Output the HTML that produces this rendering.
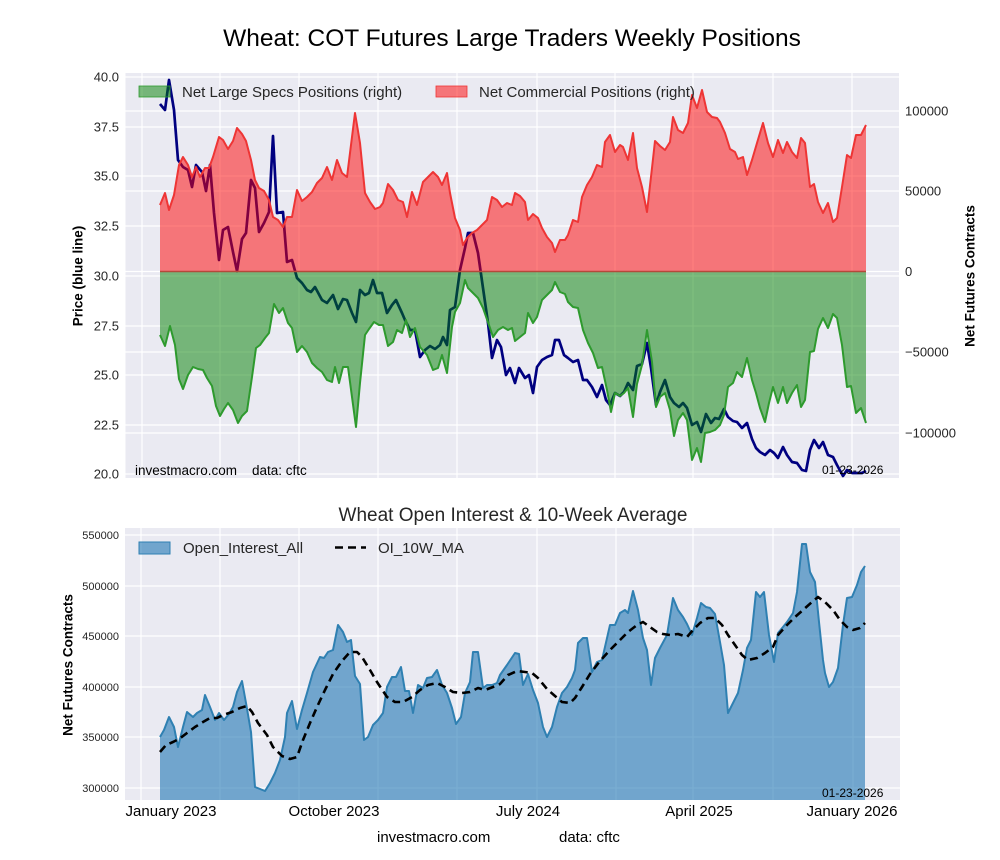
<!DOCTYPE html>
<html>
<head>
<meta charset="utf-8">
<style>
html,body{margin:0;padding:0;background:#fff;}
svg{display:block;font-family:"Liberation Sans",Arial,sans-serif;}
</style>
</head>
<body>
<svg width="1000" height="860" viewBox="0 0 1000 860" xmlns="http://www.w3.org/2000/svg">
<rect x="0" y="0" width="1000" height="860" fill="#ffffff"/>

<!-- Main title -->
<text x="512" y="46" text-anchor="middle" font-size="24.5" fill="#000">Wheat: COT Futures Large Traders Weekly Positions</text>

<!-- ================= TOP CHART ================= -->
<rect x="125.5" y="73" width="773.5" height="405" fill="#eaeaf2"/>
<g stroke="#ffffff" stroke-width="1.2">
  <line x1="142" y1="73" x2="142" y2="478"/>
  <line x1="220" y1="73" x2="220" y2="478"/>
  <line x1="299" y1="73" x2="299" y2="478"/>
  <line x1="378" y1="73" x2="378" y2="478"/>
  <line x1="457" y1="73" x2="457" y2="478"/>
  <line x1="537" y1="73" x2="537" y2="478"/>
  <line x1="615" y1="73" x2="615" y2="478"/>
  <line x1="693" y1="73" x2="693" y2="478"/>
  <line x1="773" y1="73" x2="773" y2="478"/>
  <line x1="852" y1="73" x2="852" y2="478"/>
  <line x1="125.5" y1="77" x2="899" y2="77"/>
  <line x1="125.5" y1="127" x2="899" y2="127"/>
  <line x1="125.5" y1="176" x2="899" y2="176"/>
  <line x1="125.5" y1="226" x2="899" y2="226"/>
  <line x1="125.5" y1="276" x2="899" y2="276"/>
  <line x1="125.5" y1="326" x2="899" y2="326"/>
  <line x1="125.5" y1="375" x2="899" y2="375"/>
  <line x1="125.5" y1="425" x2="899" y2="425"/>
  <line x1="125.5" y1="474" x2="899" y2="474"/>
  <line x1="125.5" y1="111" x2="899" y2="111"/>
  <line x1="125.5" y1="191" x2="899" y2="191"/>
  <line x1="125.5" y1="271.5" x2="899" y2="271.5"/>
  <line x1="125.5" y1="352" x2="899" y2="352"/>
  <line x1="125.5" y1="433" x2="899" y2="433"/>
</g>

<!-- price line (under fills) -->
<polyline fill="none" stroke="#000080" stroke-width="2.7" stroke-linejoin="round" points="160,104 165,110 169,80 174,110 178,160 183,167 188,170 192,187 196,165 202,172 206,191 210,165 214,213 219,260 223,230 228,227 233,252 237,271 242,239 246,233 251,180 255,188 259,232 264,223 269,212 273,136 277,213 283,212 287,262 292,260 297,278 302,283 307,290 311,292 315,287 322,300 327,303 333,295 338,309 343,299 347,300 352,313 356,322 360,290 365,295 369,293 373,280 377,293 382,293 387,313 392,305 396,300 402,313 405,320 410,330 415,330 420,357 425,350 430,346 435,349 440,345 443,337 447,345 450,310 455,307 460,270 465,248 468,233 473,233 478,253 483,288 488,323 492,358 497,340 501,347 506,375 510,368 515,383 519,368 525,378 529,375 533,393 537,367 542,360 547,357 552,355 555,340 559,340 564,355 568,358 573,362 578,360 583,380 587,380 592,387 597,397 602,385 606,400 610,405 615,393 620,396 624,392 628,383 633,390 637,366 642,364 647,343 651,368 656,405 660,392 665,380 670,397 674,403 679,407 683,403 687,408 692,425 697,422 701,432 706,414 711,423 715,418 719,419 724,409 728,417 733,421 737,422 742,428 747,423 752,439 756,448 760,452 765,455 770,450 774,453 778,458 783,447 787,455 792,462 797,463 802,470 806,471 810,450 814,440 819,448 823,442 828,455 833,457 837,465 843,476 847,470 852,473 857,473 862,473 866,471"/>

<!-- green fill (specs) -->
<polygon fill="#008000" fill-opacity="0.5" points="160,271.5 160,335 165,346 170,326 175,345 179,379 183,389 188,375 193,367 198,369 203,370 207,378 212,386 216,406 220,416 224,409 228,403 233,410 238,423 242,416 247,411 252,377 256,348 260,345 265,338 269,333 274,304 279,313 283,308 288,323 292,328 297,352 302,346 307,352 312,363 317,368 322,372 327,380 332,382 335,367 339,383 343,367 348,367 356,427 360,383 365,335 369,329 374,322 379,325 383,325 388,346 393,342 397,330 402,333 406,320 410,337 415,328 420,347 427,355 433,370 438,368 442,355 447,373 452,327 455,312 460,303 465,280 468,288 473,293 478,298 483,308 490,328 493,337 498,330 503,327 508,330 512,328 515,341 520,337 525,333 528,313 533,323 537,317 542,300 547,295 552,290 555,282 560,292 565,294 568,302 573,307 578,308 583,330 588,343 593,353 598,368 602,367 607,390 611,412 615,393 620,396 624,393 628,388 633,417 637,384 642,365 647,330 652,362 656,407 660,397 665,393 670,410 674,436 678,420 683,413 687,420 692,460 697,448 701,462 705,433 710,432 715,430 720,425 724,415 728,387 733,383 737,372 742,377 747,358 752,380 756,393 760,408 765,422 769,403 773,387 778,403 783,387 787,403 792,393 797,385 801,407 805,400 810,352 814,351 818,329 823,318 828,328 833,314 837,318 842,345 847,387 851,386 856,413 861,408 866,423 866,271.5"/>
<polyline fill="none" stroke="#2e9a2e" stroke-width="2" stroke-linejoin="round" points="160,335 165,346 170,326 175,345 179,379 183,389 188,375 193,367 198,369 203,370 207,378 212,386 216,406 220,416 224,409 228,403 233,410 238,423 242,416 247,411 252,377 256,348 260,345 265,338 269,333 274,304 279,313 283,308 288,323 292,328 297,352 302,346 307,352 312,363 317,368 322,372 327,380 332,382 335,367 339,383 343,367 348,367 356,427 360,383 365,335 369,329 374,322 379,325 383,325 388,346 393,342 397,330 402,333 406,320 410,337 415,328 420,347 427,355 433,370 438,368 442,355 447,373 452,327 455,312 460,303 465,280 468,288 473,293 478,298 483,308 490,328 493,337 498,330 503,327 508,330 512,328 515,341 520,337 525,333 528,313 533,323 537,317 542,300 547,295 552,290 555,282 560,292 565,294 568,302 573,307 578,308 583,330 588,343 593,353 598,368 602,367 607,390 611,412 615,393 620,396 624,393 628,388 633,417 637,384 642,365 647,330 652,362 656,407 660,397 665,393 670,410 674,436 678,420 683,413 687,420 692,460 697,448 701,462 705,433 710,432 715,430 720,425 724,415 728,387 733,383 737,372 742,377 747,358 752,380 756,393 760,408 765,422 769,403 773,387 778,403 783,387 787,403 792,393 797,385 801,407 805,400 810,352 814,351 818,329 823,318 828,328 833,314 837,318 842,345 847,387 851,386 856,413 861,408 866,423"/>

<!-- red fill (commercials) -->
<polygon fill="#ff0000" fill-opacity="0.5" points="160,271.5 160,205 165,193 169,210 174,195 179,165 183,157 188,165 192,177 196,167 200,177 205,168 209,168 213,157 219,137 223,140 228,149 233,141 237,128 242,134 246,141 251,160 255,180 259,188 264,191 269,200 273,217 278,220 283,227 287,217 292,217 297,190 302,201 307,197 312,192 317,183 322,178 327,167 332,180 337,160 342,173 347,177 355,113 360,143 365,193 370,202 375,209 380,207 383,203 388,184 393,190 398,200 403,202 407,217 412,192 417,205 423,182 428,177 433,172 438,177 442,185 447,173 450,193 455,218 460,230 463,245 467,238 472,233 477,230 482,225 487,220 492,197 497,200 502,207 507,203 512,205 515,193 520,196 525,202 528,220 533,214 538,218 542,228 547,237 552,243 555,252 560,240 565,240 568,235 573,220 578,222 582,197 587,185 592,177 597,165 602,167 605,142 610,135 615,152 620,145 623,147 628,160 633,133 637,168 642,187 647,212 652,168 655,141 660,146 665,150 670,142 673,117 678,130 683,133 688,123 692,95 697,108 702,90 707,112 712,117 717,118 720,122 725,133 730,149 735,152 738,159 743,157 747,175 752,160 757,143 763,123 768,143 773,157 778,140 783,153 787,142 792,152 797,158 801,138 805,143 810,187 814,184 818,202 823,213 828,203 833,222 837,218 842,187 847,155 851,158 856,135 861,135 866,125 866,271.5"/>
<polyline fill="none" stroke="#ee3535" stroke-width="2" stroke-linejoin="round" points="160,205 165,193 169,210 174,195 179,165 183,157 188,165 192,177 196,167 200,177 205,168 209,168 213,157 219,137 223,140 228,149 233,141 237,128 242,134 246,141 251,160 255,180 259,188 264,191 269,200 273,217 278,220 283,227 287,217 292,217 297,190 302,201 307,197 312,192 317,183 322,178 327,167 332,180 337,160 342,173 347,177 355,113 360,143 365,193 370,202 375,209 380,207 383,203 388,184 393,190 398,200 403,202 407,217 412,192 417,205 423,182 428,177 433,172 438,177 442,185 447,173 450,193 455,218 460,230 463,245 467,238 472,233 477,230 482,225 487,220 492,197 497,200 502,207 507,203 512,205 515,193 520,196 525,202 528,220 533,214 538,218 542,228 547,237 552,243 555,252 560,240 565,240 568,235 573,220 578,222 582,197 587,185 592,177 597,165 602,167 605,142 610,135 615,152 620,145 623,147 628,160 633,133 637,168 642,187 647,212 652,168 655,141 660,146 665,150 670,142 673,117 678,130 683,133 688,123 692,95 697,108 702,90 707,112 712,117 717,118 720,122 725,133 730,149 735,152 738,159 743,157 747,175 752,160 757,143 763,123 768,143 773,157 778,140 783,153 787,142 792,152 797,158 801,138 805,143 810,187 814,184 818,202 823,213 828,203 833,222 837,218 842,187 847,155 851,158 856,135 861,135 866,125"/>
<line x1="160" y1="271.5" x2="866" y2="271.5" stroke="#b4493a" stroke-width="1.6"/>

<!-- top legend -->
<rect x="139" y="86" width="31" height="11" fill="#008000" fill-opacity="0.5" stroke="#2e9a2e" stroke-width="0.8"/>
<text x="182" y="97" font-size="15" fill="#262626">Net Large Specs Positions (right)</text>
<rect x="436" y="86" width="31" height="11" fill="#ff0000" fill-opacity="0.5" stroke="#ee3535" stroke-width="0.8"/>
<text x="479" y="97" font-size="15" fill="#262626">Net Commercial Positions (right)</text>

<!-- top annotations -->
<text x="135" y="475" font-size="13.5" fill="#000">investmacro.com</text>
<text x="252" y="475" font-size="13.5" fill="#000">data: cftc</text>
<text x="822" y="474" font-size="12" fill="#000">01-23-2026</text>

<g font-size="13" fill="#262626" text-anchor="end">
  <text x="119" y="77" dy="0.35em">40.0</text>
  <text x="119" y="127" dy="0.35em">37.5</text>
  <text x="119" y="176" dy="0.35em">35.0</text>
  <text x="119" y="226" dy="0.35em">32.5</text>
  <text x="119" y="276" dy="0.35em">30.0</text>
  <text x="119" y="326" dy="0.35em">27.5</text>
  <text x="119" y="375" dy="0.35em">25.0</text>
  <text x="119" y="425" dy="0.35em">22.5</text>
  <text x="119" y="474" dy="0.35em">20.0</text>
</g>
<g font-size="13" fill="#262626">
  <text x="905" y="111" dy="0.35em">100000</text>
  <text x="905" y="191" dy="0.35em">50000</text>
  <text x="905" y="271.5" dy="0.35em">0</text>
  <text x="905" y="352" dy="0.35em">−50000</text>
  <text x="905" y="433" dy="0.35em">−100000</text>
</g>
<text transform="translate(78,276) rotate(-90)" text-anchor="middle" dy="0.35em" font-size="13.5" font-weight="bold" fill="#000">Price (blue line)</text>
<text transform="translate(970,276) rotate(-90)" text-anchor="middle" dy="0.35em" font-size="13.5" font-weight="bold" fill="#000">Net Futures Contracts</text>

<!-- ================= BOTTOM CHART ================= -->
<text x="513" y="521" text-anchor="middle" font-size="19" fill="#262626">Wheat Open Interest &amp; 10-Week Average</text>
<rect x="125" y="528" width="775" height="272" fill="#eaeaf2"/>
<g stroke="#ffffff" stroke-width="1.2">
  <line x1="141" y1="528" x2="141" y2="800"/>
  <line x1="220" y1="528" x2="220" y2="800"/>
  <line x1="299" y1="528" x2="299" y2="800"/>
  <line x1="378" y1="528" x2="378" y2="800"/>
  <line x1="457" y1="528" x2="457" y2="800"/>
  <line x1="537" y1="528" x2="537" y2="800"/>
  <line x1="616" y1="528" x2="616" y2="800"/>
  <line x1="693" y1="528" x2="693" y2="800"/>
  <line x1="773" y1="528" x2="773" y2="800"/>
  <line x1="853" y1="528" x2="853" y2="800"/>
  <line x1="125" y1="535" x2="900" y2="535"/>
  <line x1="125" y1="586" x2="900" y2="586"/>
  <line x1="125" y1="636" x2="900" y2="636"/>
  <line x1="125" y1="687" x2="900" y2="687"/>
  <line x1="125" y1="737" x2="900" y2="737"/>
  <line x1="125" y1="788" x2="900" y2="788"/>
</g>
<polygon fill="#1f77b4" fill-opacity="0.6" points="160,800 160,737 164,730 169,717 174,727 178,747 183,727 187,712 193,717 197,713 202,710 205,695 210,707 215,720 219,713 224,720 229,714 233,707 237,692 242,681 246,703 251,732 255,787 260,789 265,791 270,783 275,773 280,760 285,737 287,713 292,701 297,729 302,710 307,693 313,672 320,657 324,658 328,652 333,650 338,625 343,632 347,642 351,640 355,676 360,684 364,740 368,737 373,725 378,720 383,713 387,687 392,677 396,677 401,667 405,691 409,691 413,713 418,685 423,688 427,678 432,677 437,670 442,685 447,693 452,708 456,724 461,717 465,693 470,682 473,652 478,652 483,688 487,685 492,685 497,683 500,675 507,665 515,653 519,654 523,685 528,674 533,690 538,703 543,727 547,737 552,727 557,707 562,693 567,687 572,678 575,670 578,643 583,638 587,638 592,672 597,662 602,660 610,625 615,625 620,613 625,610 628,613 633,591 638,610 643,638 647,650 651,685 655,658 660,648 667,635 673,598 678,610 683,617 687,624 692,635 697,618 701,603 706,607 710,608 715,614 720,642 724,665 728,713 733,703 738,693 743,670 747,648 751,640 756,592 760,597 764,592 769,635 774,662 778,633 783,627 787,622 793,613 797,592 802,544 806,544 810,572 815,582 819,622 823,660 825,673 829,687 833,682 838,668 843,625 847,598 852,597 857,585 861,572 865,566 865,800"/>
<polyline fill="none" stroke="#2f80b2" stroke-width="2" stroke-linejoin="round" points="160,737 164,730 169,717 174,727 178,747 183,727 187,712 193,717 197,713 202,710 205,695 210,707 215,720 219,713 224,720 229,714 233,707 237,692 242,681 246,703 251,732 255,787 260,789 265,791 270,783 275,773 280,760 285,737 287,713 292,701 297,729 302,710 307,693 313,672 320,657 324,658 328,652 333,650 338,625 343,632 347,642 351,640 355,676 360,684 364,740 368,737 373,725 378,720 383,713 387,687 392,677 396,677 401,667 405,691 409,691 413,713 418,685 423,688 427,678 432,677 437,670 442,685 447,693 452,708 456,724 461,717 465,693 470,682 473,652 478,652 483,688 487,685 492,685 497,683 500,675 507,665 515,653 519,654 523,685 528,674 533,690 538,703 543,727 547,737 552,727 557,707 562,693 567,687 572,678 575,670 578,643 583,638 587,638 592,672 597,662 602,660 610,625 615,625 620,613 625,610 628,613 633,591 638,610 643,638 647,650 651,685 655,658 660,648 667,635 673,598 678,610 683,617 687,624 692,635 697,618 701,603 706,607 710,608 715,614 720,642 724,665 728,713 733,703 738,693 743,670 747,648 751,640 756,592 760,597 764,592 769,635 774,662 778,633 783,627 787,622 793,613 797,592 802,544 806,544 810,572 815,582 819,622 823,660 825,673 829,687 833,682 838,668 843,625 847,598 852,597 857,585 861,572 865,566"/>
<polyline fill="none" stroke="#000" stroke-width="2.6" stroke-dasharray="8,5" stroke-linejoin="round" points="160,752 166,745 173,742 179,739 187,733 195,727 203,722 210,718 217,718 223,715 232,712 240,708 247,706 252,712 258,723 267,735 273,747 282,756 290,759 297,757 303,740 310,723 317,707 325,690 333,674 342,661 350,652 357,652 362,657 370,670 377,682 387,697 395,702 403,702 412,697 420,690 428,685 437,683 445,687 453,692 462,693 470,692 478,688 485,690 493,687 500,684 508,675 517,671 525,672 532,673 538,678 547,689 555,696 562,702 570,703 575,698 582,687 590,674 600,661 610,650 620,640 628,632 637,625 643,622 650,627 657,632 663,634 670,635 678,634 687,637 693,630 700,623 708,618 715,618 722,625 728,635 735,645 742,655 748,660 757,658 765,653 773,647 778,635 787,625 795,617 803,610 812,602 818,597 825,602 833,610 840,620 847,627 853,630 860,628 865,623"/>

<rect x="139" y="542" width="31" height="12" fill="#1f77b4" fill-opacity="0.6" stroke="#2f80b2" stroke-width="1"/>
<text x="183" y="553" font-size="15" fill="#262626">Open_Interest_All</text>
<line x1="335" y1="547.5" x2="366" y2="547.5" stroke="#000" stroke-width="2.6" stroke-dasharray="8,5"/>
<text x="378" y="553" font-size="15" fill="#262626">OI_10W_MA</text>

<text x="822" y="797" font-size="12" fill="#000">01-23-2026</text>

<g font-size="11" fill="#262626" text-anchor="end">
  <text x="119" y="535" dy="0.35em">550000</text>
  <text x="119" y="586" dy="0.35em">500000</text>
  <text x="119" y="636" dy="0.35em">450000</text>
  <text x="119" y="687" dy="0.35em">400000</text>
  <text x="119" y="737" dy="0.35em">350000</text>
  <text x="119" y="788" dy="0.35em">300000</text>
</g>
<text transform="translate(68,665) rotate(-90)" text-anchor="middle" dy="0.35em" font-size="13.5" font-weight="bold" fill="#000">Net Futures Contracts</text>

<g font-size="15" fill="#000" text-anchor="middle">
  <text x="171" y="816">January 2023</text>
  <text x="334" y="816">October 2023</text>
  <text x="528" y="816">July 2024</text>
  <text x="699" y="816">April 2025</text>
  <text x="852" y="816">January 2026</text>
</g>

<text x="377" y="842" font-size="15" fill="#000">investmacro.com</text>
<text x="559" y="842" font-size="15" fill="#000">data: cftc</text>
</svg>
</body>
</html>
